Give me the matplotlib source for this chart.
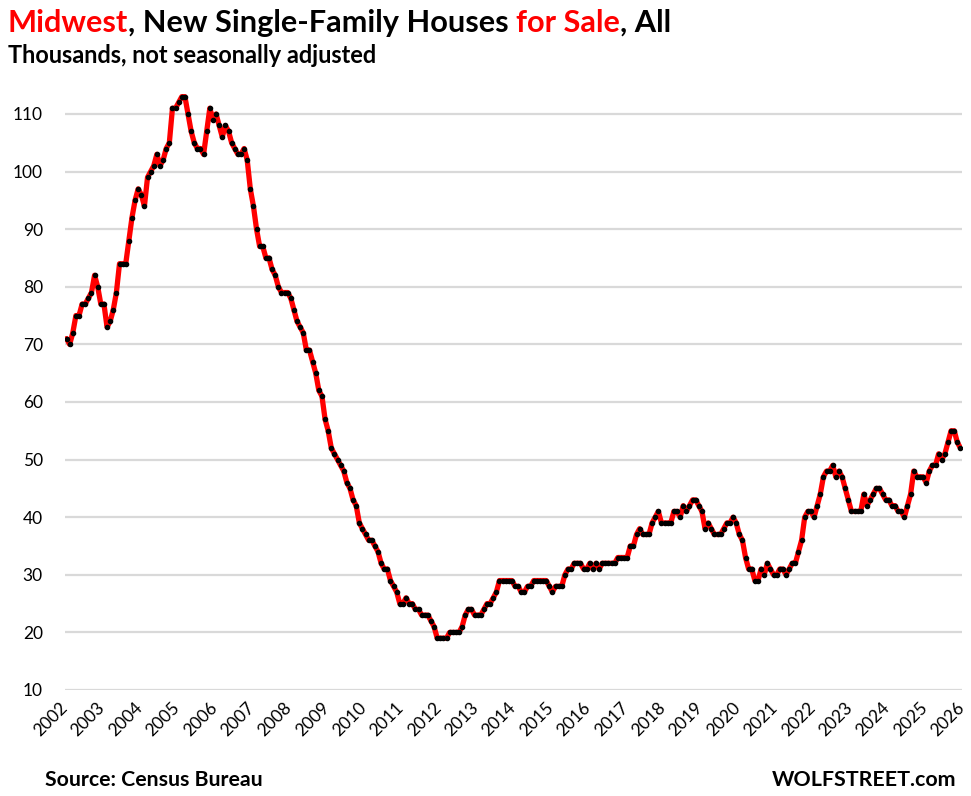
import matplotlib
matplotlib.use("Agg")
import matplotlib.pyplot as plt

# ---------------- data (thousands, monthly, Jan 2002 .. Dec 2025) ----------------
first_year = 2002
houses_for_sale = [
    71, 70, 72, 75, 75, 77, 77, 78, 79, 82, 80, 77,          # 2002
    77, 73, 74, 76, 79, 84, 84, 84, 88, 92, 95, 97,          # 2003
    96, 94, 99, 100, 101, 103, 101, 102, 104, 105, 111, 111, # 2004
    112, 113, 113, 110, 107, 105, 104, 104, 103, 107, 111, 109,  # 2005
    110, 108, 106, 108, 107, 105, 104, 103, 103, 104, 102, 97,   # 2006
    94, 90, 87, 87, 85, 85, 83, 82, 80, 79, 79, 79,          # 2007
    78, 76, 74, 73, 72, 69, 69, 67, 65, 62, 61, 57,          # 2008
    55, 52, 51, 50, 49, 48, 46, 45, 43, 42, 39, 38,          # 2009
    37, 36, 36, 35, 34, 32, 31, 31, 29, 28, 27, 25,          # 2010
    25, 26, 25, 25, 24, 24, 23, 23, 23, 22, 21, 19,          # 2011
    19, 19, 19, 20, 20, 20, 20, 21, 23, 24, 24, 23,          # 2012
    23, 23, 24, 25, 25, 26, 27, 29, 29, 29, 29, 29,          # 2013
    28, 28, 27, 27, 28, 28, 29, 29, 29, 29, 29, 28,          # 2014
    27, 28, 28, 28, 30, 31, 31, 32, 32, 32, 31, 31,          # 2015
    32, 31, 32, 31, 32, 32, 32, 32, 32, 33, 33, 33,          # 2016
    33, 35, 35, 37, 38, 37, 37, 37, 39, 40, 41, 39,          # 2017
    39, 39, 39, 41, 41, 40, 42, 41, 42, 43, 43, 42,          # 2018
    41, 38, 39, 38, 37, 37, 37, 38, 39, 39, 40, 39,          # 2019
    37, 36, 33, 31, 31, 29, 29, 31, 30, 32, 31, 30,          # 2020
    30, 31, 31, 30, 31, 32, 32, 34, 36, 40, 41, 41,          # 2021
    40, 42, 44, 47, 48, 48, 49, 47, 48, 47, 45, 43,          # 2022
    41, 41, 41, 41, 44, 42, 43, 44, 45, 45, 44, 43,          # 2023
    43, 42, 42, 41, 41, 40, 42, 44, 48, 47, 47, 47,          # 2024
    46, 48, 49, 49, 51, 50, 51, 53, 55, 55, 53, 52,          # 2025
]
year_ticks = list(range(2002, 2027))
value_ticks = list(range(10, 111, 10))

title_pieces = [("Midwest", "#ff0000"), (", New Single-Family Houses ", "black"),
                ("for Sale", "#ff0000"), (", All", "black")]
subtitle = "Thousands, not seasonally adjusted"
source_text = "Source: Census Bureau"
brand_text = "WOLFSTREET.com"

# ---------------- figure ----------------
W, H = 971, 796
FONT = "Lato"
fig = plt.figure(figsize=(W / 100, H / 100), dpi=100)
fig.patch.set_facecolor("white")

left, right, bottom, top = 65, 962, 690, 79.4
ax = fig.add_axes([left / W, 1 - bottom / H, (right - left) / W, (bottom - top) / H])

xs = [first_year + (i + 0.5) / 12 for i in range(len(houses_for_sale))]
ax.plot(xs, houses_for_sale, color="#ff0000", lw=3.8, solid_joinstyle="round",
        solid_capstyle="round", zorder=3)
ax.plot(xs, houses_for_sale, "o", color="black", ms=3.0, zorder=4)

ax.set_xlim(2002, 2026)
ax.set_ylim(10, 116)
ax.set_yticks(value_ticks)
ax.set_xticks(year_ticks)
ax.set_xticklabels([str(y) for y in year_ticks], rotation=45, ha="right", va="center",
                   rotation_mode="anchor", fontsize=12.5, fontfamily=FONT)
ax.set_yticklabels([str(v) for v in value_ticks], fontsize=12.5, fontfamily=FONT)
ax.tick_params(axis="both", length=0, colors="black")
ax.tick_params(axis="y", pad=16)
ax.tick_params(axis="x", pad=11)
ax.yaxis.grid(True, color="#d9d9d9", lw=1.6)
ax.set_axisbelow(True)
for s in ax.spines.values():
    s.set_visible(False)

renderer = fig.canvas.get_renderer()


def fit_text(x_px, base_px, pieces, target_w, size=20, ha="left"):
    texts = []
    for txt, col in pieces:
        t = fig.text(0, 0, txt, color=col, fontsize=size, fontweight="bold",
                     fontfamily=FONT, va="baseline", ha="left")
        texts.append(t)
    total = sum(t.get_window_extent(renderer).width for t in texts)
    new_size = size * target_w / total
    for t in texts:
        t.set_fontsize(new_size)
    widths = [t.get_window_extent(renderer).width for t in texts]
    cur = x_px if ha == "left" else x_px - sum(widths)
    for t, w in zip(texts, widths):
        t.set_position((cur / W, 1 - base_px / H))
        cur += w
    return texts


fit_text(8, 31.7, title_pieces, 664)
fit_text(8, 63.3, [(subtitle, "black")], 369)
fit_text(45, 786, [(source_text, "black")], 217)
fit_text(956, 786, [(brand_text, "black")], 184, ha="right")

fig.savefig("out.png", dpi=100, facecolor="white")
